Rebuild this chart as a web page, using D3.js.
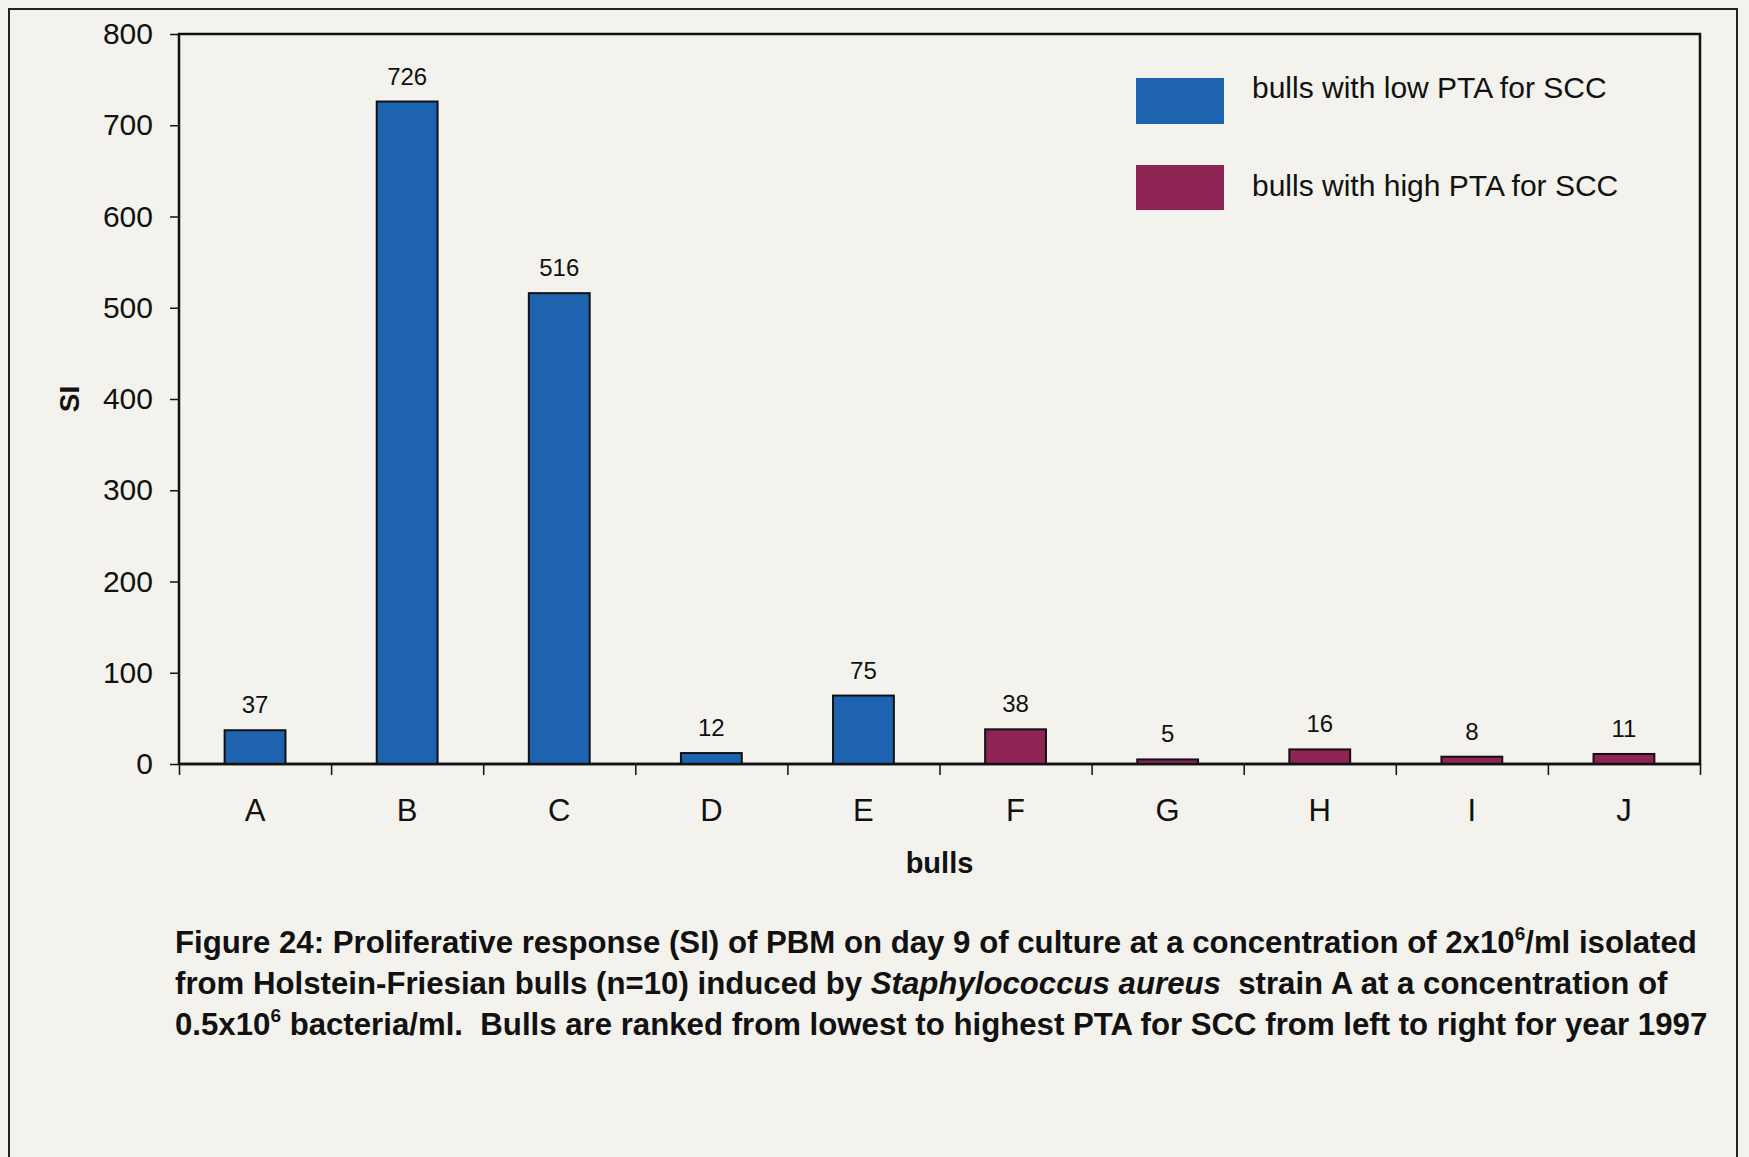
<!DOCTYPE html>
<html>
<head>
<meta charset="utf-8">
<script src="https://cdn.jsdelivr.net/npm/d3@7"></script>
<style>
  html, body { margin: 0; padding: 0; background: #f3f2ec; }
  svg { display: block; font-family: "Liberation Sans", Arial, sans-serif; }
  text { white-space: pre; }
</style>
</head>
<body>
<svg id="chart" width="1749" height="1157"></svg>
<script>
// ---- data ----
const categories = ["A", "B", "C", "D", "E", "F", "G", "H", "I", "J"];
const siValues   = [37, 726, 516, 12, 75, 38, 5, 16, 8, 11];
const groupOf    = ["low", "low", "low", "low", "low", "high", "high", "high", "high", "high"];
const yTicks     = [0, 100, 200, 300, 400, 500, 600, 700, 800];
const seriesNames = ["bulls with low PTA for SCC", "bulls with high PTA for SCC"];
const seriesKeys  = ["low", "high"];
const yTitle = "SI";
const xTitle = "bulls";

// ---- styles ----
const colors = { low: "#1e63b0", high: "#8d2454" };
const ink = "#111";

const svg = d3.select("#chart");
const W = 1749, H = 1157;
const plot = { left: 179, right: 1700, top: 34, bottom: 764 };

svg.append("rect").attr("width", W).attr("height", H).attr("fill", "#f3f2ec");
// outer page frame
svg.append("rect").attr("x", 9).attr("y", 9).attr("width", 1728).attr("height", 1200)
  .attr("fill", "none").attr("stroke", "#222").attr("stroke-width", 2);

const x = d3.scaleBand().domain(categories).range([plot.left, plot.right])
  .paddingInner(0.6).paddingOuter(0.3);
const xEdges = d3.scaleLinear().domain([0, categories.length]).range([plot.left, plot.right]);
const y = d3.scaleLinear().domain([0, 800]).range([plot.bottom, plot.top]);

// plot frame
svg.append("rect").attr("x", plot.left).attr("y", plot.top)
  .attr("width", plot.right - plot.left).attr("height", plot.bottom - plot.top)
  .attr("fill", "none").attr("stroke", ink).attr("stroke-width", 2.5);

// y axis
const yAxis = svg.append("g").attr("transform", `translate(${plot.left},0)`)
  .call(d3.axisLeft(y).tickValues(yTicks).tickSize(9).tickPadding(17).tickFormat(d3.format("d")));
yAxis.select(".domain").remove();
yAxis.selectAll("line").attr("stroke", ink).attr("stroke-width", 1.5);
yAxis.selectAll("text").attr("font-size", 30).attr("fill", ink)
  .attr("font-family", "Liberation Sans, Arial, sans-serif");

// x boundary ticks
const xTickAxis = svg.append("g").attr("transform", `translate(0,${plot.bottom})`)
  .call(d3.axisBottom(xEdges).tickValues(d3.range(categories.length + 1)).tickSize(11).tickFormat(""));
xTickAxis.select(".domain").remove();
xTickAxis.selectAll("line").attr("stroke", ink).attr("stroke-width", 1.5);

// category labels
const xLab = svg.append("g").attr("transform", `translate(0,${plot.bottom})`)
  .call(d3.axisBottom(x).tickSize(0).tickPadding(35));
xLab.select(".domain").remove();
xLab.selectAll("text").attr("font-size", 31).attr("fill", ink)
  .attr("font-family", "Liberation Sans, Arial, sans-serif");

// bars
const data = categories.map((c, i) => ({ c, v: siValues[i], g: groupOf[i] }));
svg.append("g").selectAll("rect").data(data).join("rect")
  .attr("x", d => x(d.c)).attr("width", x.bandwidth())
  .attr("y", d => y(d.v)).attr("height", d => y(0) - y(d.v))
  .attr("fill", d => colors[d.g]).attr("stroke", ink).attr("stroke-width", 2);

// baseline axis line (on top of bars)
svg.append("line").attr("x1", plot.left).attr("x2", plot.right)
  .attr("y1", y(0)).attr("y2", y(0)).attr("stroke", ink).attr("stroke-width", 2.5);

// value labels
svg.append("g").selectAll("text").data(data).join("text")
  .attr("x", d => x(d.c) + x.bandwidth() / 2).attr("y", d => y(d.v) - 17)
  .attr("text-anchor", "middle").attr("font-size", 24).attr("fill", ink)
  .text(d => d.v);

// axis titles
svg.append("text").attr("x", (plot.left + plot.right) / 2).attr("y", 873)
  .attr("text-anchor", "middle").attr("font-size", 29).attr("font-weight", "bold")
  .attr("fill", ink).text(xTitle);
svg.append("text").attr("transform", `translate(79,${(plot.top + plot.bottom) / 2}) rotate(-90)`)
  .attr("text-anchor", "middle").attr("font-size", 28).attr("font-weight", "bold")
  .attr("fill", ink).text(yTitle);

// legend
const legend = svg.append("g");
const legRows = [{ y: 78, h: 46, ty: 98 }, { y: 165, h: 45, ty: 196 }];
seriesKeys.forEach((k, i) => {
  legend.append("rect").attr("x", 1136).attr("y", legRows[i].y)
    .attr("width", 88).attr("height", legRows[i].h).attr("fill", colors[k]);
  legend.append("text").attr("x", 1252).attr("y", legRows[i].ty)
    .attr("font-size", 30).attr("fill", ink).text(seriesNames[i]);
});

// caption
const capFs = 31.2, supFs = 19;
const cap = svg.append("g").attr("font-size", capFs).attr("font-weight", "bold").attr("fill", ink);
const capX = 175;
const l1 = cap.append("text").attr("x", capX).attr("y", 953);
l1.append("tspan").text("Figure 24: Proliferative response (SI) of PBM on day 9 of culture at a concentration of 2x10");
l1.append("tspan").attr("dy", -13).attr("font-size", supFs).text("6");
l1.append("tspan").attr("dy", 13).text("/ml isolated");

const l2 = cap.append("text").attr("x", capX).attr("y", 994);
l2.append("tspan").text("from Holstein-Friesian bulls (n=10) induced by ");
l2.append("tspan").attr("font-style", "italic").text("Staphylococcus aureus");
l2.append("tspan").text("  strain A at a concentration of");

const l3 = cap.append("text").attr("x", capX).attr("y", 1035);
l3.append("tspan").text("0.5x10");
l3.append("tspan").attr("dy", -13).attr("font-size", supFs).text("6");
l3.append("tspan").attr("dy", 13).text(" bacteria/ml.  Bulls are ranked from lowest to highest PTA for SCC from left to right for year 1997");
</script>
</body>
</html>
